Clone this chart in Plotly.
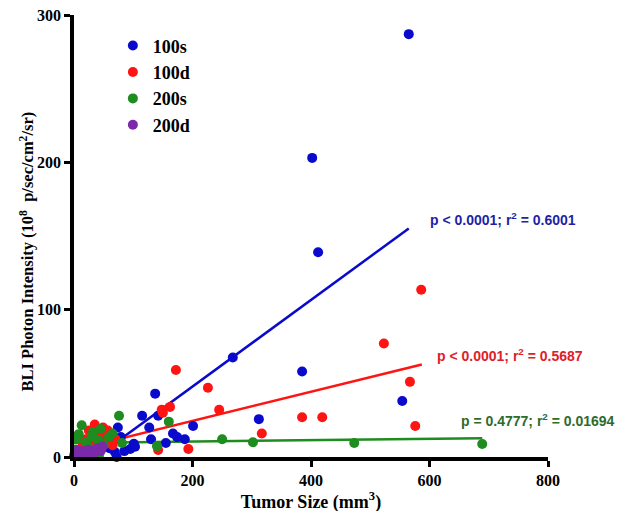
import plotly.graph_objects as go

# ---- data ----
blue_x = [565, 402, 412, 268, 385, 554, 312, 201, 137, 115, 142, 127, 74, 167, 174, 187, 130, 155, 101, 95, 72, 69, 79, 49, 103, 40, 30, 60, 20, 10, 55, 85]
blue_y = [287, 203, 139, 67.5, 58, 38, 25.7, 21, 43, 28, 28, 20, 20, 16, 13.5, 12, 12, 9.5, 9, 5.4, 0, 3.4, 13.5, 10, 7, 8, 5, 6, 3, 2, 12, 4]

red_x = [586, 523, 567, 576, 385, 419, 317, 226, 245, 193, 172, 162, 148, 150, 142, 35, 49, 57, 61, 47, 25, 40, 20, 15, 30, 55, 65, 10, 5, 70]
red_y = [113.5, 77, 51, 21, 27, 27, 16, 47, 32, 5.4, 59, 34, 32, 30, 4.7, 22, 20, 18, 15, 14, 18, 16, 12, 8, 10, 10, 8, 5, 3, 12]

green_x = [689, 473, 302, 250, 160, 140, 76, 13, 32, 8, 59, 41, 81, 42, 20, 5, 25, 50, 65, 3, 30, 45]
green_y = [8.8, 9.5, 10, 12, 24, 7.4, 28, 21.6, 17, 15.5, 13.5, 11.5, 9.5, 0.7, 10, 12, 6, 8, 16, 5, 14, 19]

purple_x = [0, 2, 5, 8, 10, 12, 15, 18, 20, 22, 25, 28, 30, 35, 40, 45, 48, 3, 6, 1]
purple_y = [0.5, 1, 2, 0.5, 3, 1.5, 2.5, 4, 1, 3, 5, 2, 4, 3, 6, 4, 7, 3, 4.5, 2]

# linear fits: (intercept, slope, x_min, x_max)
fit_blue = (-11.0, 0.294, 0, 565)
fit_red = (4.7, 0.099, 0, 587)
fit_green = (9.5, 0.0048, 0, 689)
fit_purple = (1.5, 0.10, 0, 50)

names = ["100s", "100d", "200s", "200d"]
stats = ["p < 0.0001; r<sup>2</sup> = 0.6001",
         "p < 0.0001; r<sup>2</sup> = 0.5687",
         "p = 0.4777; r<sup>2</sup> = 0.01694"]

x_ticks = [0, 200, 400, 600, 800]
y_ticks = [0, 100, 200, 300]

x_title = "Tumor Size (mm<sup>3</sup>)"
y_title = "BLI Photon Intensity (10<sup>8</sup>  p/sec/cm<sup>2</sup>/sr)"

colors = ["#0a0acc", "#ff1414", "#1e8c1e", "#7a2aa8"]
text_colors = ["#1f1fa8", "#e02028", "#2e6b2e"]

series = [(blue_x, blue_y, fit_blue), (red_x, red_y, fit_red),
          (green_x, green_y, fit_green), (purple_x, purple_y, fit_purple)]

fig = go.Figure()

for i, (xs, ys, fit) in enumerate(series):
    b, m, x0, x1 = fit
    fx = [x0, x1]
    fy = [b + m * x0, b + m * x1]
    fig.add_trace(go.Scatter(x=fx, y=fy, mode="lines",
                             line=dict(color=colors[i], width=2.5),
                             showlegend=False, hoverinfo="skip"))

for i, (xs, ys, fit) in enumerate(series):
    fig.add_trace(go.Scatter(x=xs, y=ys, mode="markers", name=names[i],
                             marker=dict(color=colors[i], size=10, line=dict(width=0)),
                             cliponaxis=False))

# annotations at fit line ends
ann_pos = [(fit_blue, 0), (fit_red, 1), (fit_green, 2)]
offsets = [(19, 9), (13, 9), (-23, 18)]
for (fit, i), (dx, dy) in zip(ann_pos, offsets):
    b, m, x0, x1 = fit
    fig.add_annotation(x=x1, y=b + m * x1, xref="x", yref="y",
                       text="<b>" + stats[i] + "</b>", showarrow=False,
                       xanchor="left", yanchor="middle", xshift=dx, yshift=dy,
                       font=dict(family="Liberation Sans", size=14, color=text_colors[i]))

# y-axis title as rotated annotation
fig.add_annotation(x=0, y=0.465, xref="paper", yref="paper", text="<b>" + y_title + "</b>",
                   textangle=-90, showarrow=False, xanchor="center", yanchor="middle",
                   xshift=-47, font=dict(family="Liberation Serif", size=16.5, color="black"))

axis_common = dict(showline=True, linecolor="black", linewidth=3.5,
                   ticks="outside", ticklen=6, tickwidth=3, tickcolor="black",
                   showgrid=False, zeroline=False, mirror=False, automargin=False,
                   ticklabeloverflow="allow",
                   tickfont=dict(family="Liberation Serif", size=16, color="black", weight="bold"))

fig.update_layout(
    width=624, height=511,
    margin=dict(l=66, r=84, t=7, b=62, autoexpand=False),
    plot_bgcolor="white", paper_bgcolor="white",
    xaxis=dict(range=[0, 800], tickvals=x_ticks,
               title=dict(text=x_title, standoff=1,
                          font=dict(family="Liberation Serif", size=18, color="black", weight="bold")),
               **axis_common),
    yaxis=dict(range=[0, 300], tickvals=y_ticks, **axis_common),
    legend=dict(x=0.082, y=0.972, xanchor="left", yanchor="top",
                bgcolor="rgba(0,0,0,0)",
                font=dict(family="Liberation Serif", size=18, color="black", weight="bold")),
    showlegend=True,
)

fig.write_html("out.html")
